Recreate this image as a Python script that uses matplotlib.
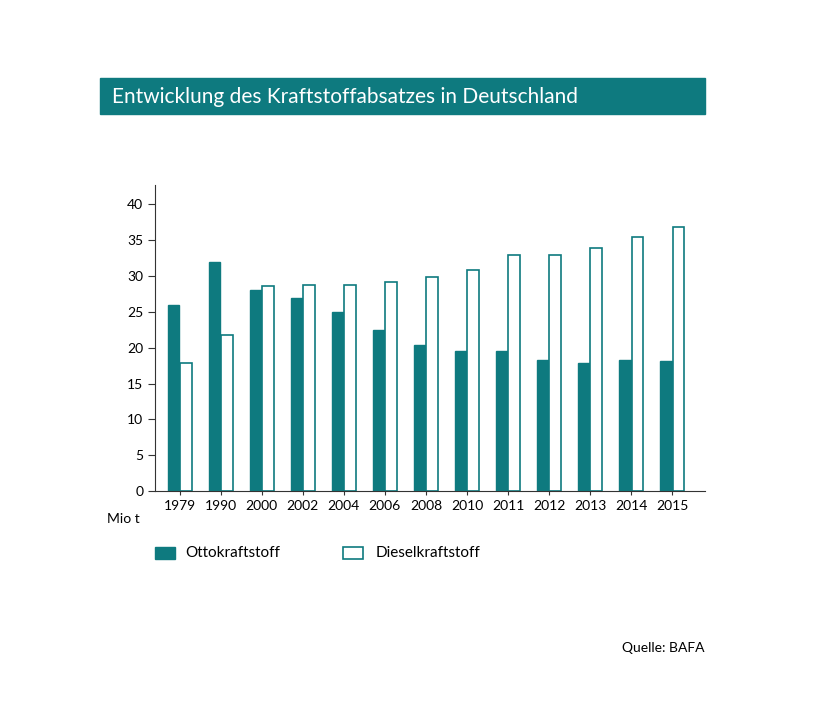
import matplotlib
matplotlib.use("Agg")
import matplotlib.pyplot as plt
import numpy as np
from matplotlib.patches import Rectangle

years = ["1979", "1990", "2000", "2002", "2004", "2006", "2008",
         "2010", "2011", "2012", "2013", "2014", "2015"]
otto = [26.0, 32.0, 28.0, 27.0, 25.0, 22.4, 20.4, 19.5, 19.5, 18.3, 17.9, 18.3, 18.2]
diesel = [17.9, 21.8, 28.6, 28.8, 28.8, 29.1, 29.9, 30.8, 32.9, 32.9, 33.9, 35.5, 36.8]

TEAL = "#0e7a7f"
W, H = 814, 720
plt.rcParams["font.family"] = ["Lato", "DejaVu Sans"]

fig = plt.figure(figsize=(W / 100, H / 100), dpi=100)
fig.patch.set_facecolor("white")

# title bar
fig.patches.append(Rectangle((100 / W, 1 - 114 / H), 605 / W, 36 / H,
                             transform=fig.transFigure, color=TEAL, zorder=0))
fig.text(112 / W, 1 - 97 / H, "Entwicklung des Kraftstoffabsatzes in Deutschland",
         color="white", fontsize=15, va="center", ha="left")

ax = fig.add_axes([155 / W, 1 - 491 / H, 550 / W, (491 - 185) / H])
x = np.arange(len(years))
bw = 0.28
ax.bar(x - bw / 2 - 0.01, otto, bw, color=TEAL, edgecolor=TEAL, linewidth=1)
ax.bar(x + bw / 2 + 0.01, diesel, bw, facecolor="white", edgecolor=TEAL, linewidth=1.2)

ax.set_xlim(-0.6, 12.8)
ax.set_ylim(0, 42.7)
ax.set_yticks(range(0, 41, 5))
ax.set_xticks(x)
ax.set_xticklabels(years)
ax.tick_params(axis="both", labelsize=10, color="#333333", length=5)
ax.tick_params(axis="x", length=3)
for s in ("top", "right"):
    ax.spines[s].set_visible(False)
for s in ("left", "bottom"):
    ax.spines[s].set_color("#333333")
    ax.spines[s].set_linewidth(0.8)

fig.text(107 / W, 1 - 519 / H, "Mio t", fontsize=10, va="center", ha="left")

# legend
fig.patches.append(Rectangle((155 / W, 1 - 559 / H), 20 / W, 12 / H,
                             transform=fig.transFigure, facecolor=TEAL, edgecolor=TEAL))
fig.text(185 / W, 1 - 553 / H, "Ottokraftstoff", fontsize=11, va="center")
fig.patches.append(Rectangle((343 / W, 1 - 559 / H), 20 / W, 12 / H,
                             transform=fig.transFigure, facecolor="white",
                             edgecolor=TEAL, linewidth=1.2))
fig.text(376 / W, 1 - 553 / H, "Dieselkraftstoff", fontsize=11, va="center")

fig.text(705 / W, 1 - 648 / H, "Quelle: BAFA", fontsize=10, va="center", ha="right")

fig.savefig("out.png", dpi=100)
